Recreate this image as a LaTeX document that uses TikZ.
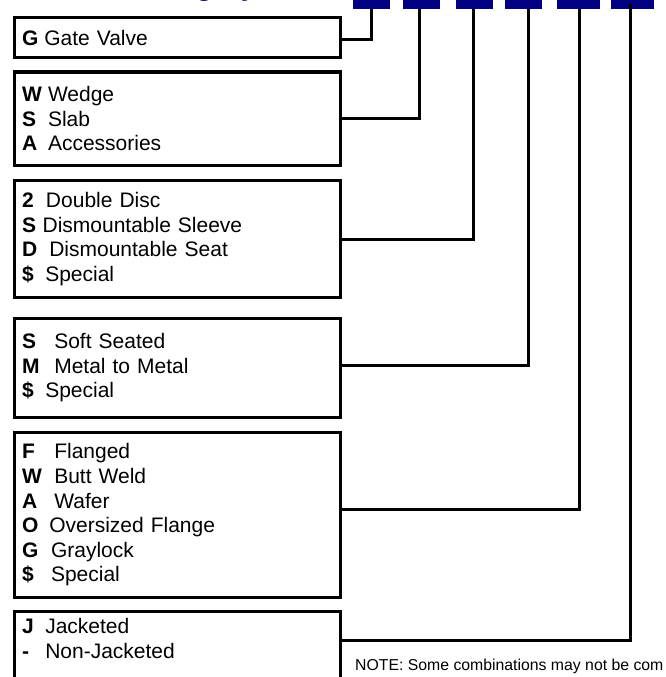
\documentclass[tikz,border=0pt]{standalone}
\usepackage{fontspec}
\setmainfont{Liberation Sans}
\usetikzlibrary{positioning}
\definecolor{SlotNavy}{RGB}{0, 0, 128}
\newcommand{\optline}[3][26pt]{\makebox[#1][l]{\textbf{#2}}#3}

\begin{document}
\begin{tikzpicture}[
    x=1pt, y=-1pt,
    optbox/.style={draw, line width=3pt, outer sep=0pt, inner xsep=7.5pt, text width=310.5pt, align=left, font=\fontsize{21}{24.6}\selectfont},
    slot/.style={fill=SlotNavy, outer sep=0pt, inner sep=0pt, minimum height=15pt},
    link/.style={line width=3pt}
]
\useasboundingbox (0,0) rectangle (665,677);
\clip (0,0) rectangle (665,677);

% title (cut off at the top)
\node[font=\bfseries\fontsize{28}{30}\selectfont, text=SlotNavy, anchor=base west, inner sep=0pt] (title) at (135,-4) {Category};

% code slots
\foreach \name/\x/\w in {s1/352.7/37.3, s2/402.7/37.3, s3/456/37, s4/505/37, s5/556.7/43.3, s6/610.7/43.3}
    \node[slot, minimum width=\w pt, anchor=south west] (\name) at (\x,9.5) {};

% option boxes
\node[optbox, minimum height=39.3pt, anchor=north west] (valve) at (14.5,18) {\optline[22.3pt]{G}{Gate Valve}};
\node[optbox, minimum height=93pt, below=14.7pt of valve] (disc) {\optline{W}{Wedge}\\ \optline{S}{Slab}\\ \optline{A}{Accessories}};
\node[optbox, minimum height=117pt, below=15.7pt of disc] (design) {\optline[24pt]{2}{Double Disc}\\ \optline[20.6pt]{S}{Dismountable Sleeve}\\ \optline[27.3pt]{D}{Dismountable Seat}\\ \optline[23.3pt]{\$}{Special}};
\node[optbox, minimum height=99.7pt, below=20.3pt of design] (seat) {\optline[32.3pt]{S}{Soft Seated}\\ \optline[32.3pt]{M}{Metal to Metal}\\ \optline[23.3pt]{\$}{Special}};
\node[optbox, minimum height=165.4pt, below=14.6pt of seat] (ends) {\optline[32.3pt]{F}{Flanged}\\ \optline[32.3pt]{W}{Butt Weld}\\ \optline[32.3pt]{A}{Wafer}\\ \optline[27.3pt]{O}{Oversized Flange}\\ \optline[29pt]{G}{Graylock}\\ \optline[29pt]{\$}{Special}};
\node[optbox, inner ysep=6.6pt, below=14pt of ends] (jacket) {\optline[23.3pt]{J}{Jacketed}\\ \optline[23.3pt]{-}{Non-Jacketed}\rule[-40pt]{0pt}{40pt}};

\node[font=\fontsize{15.8}{18}\selectfont, anchor=base west, inner sep=0pt] (note) at (355,670) {NOTE: Some combinations may not be com};

% connectors
\draw[link] ([yshift=-2.35pt]valve.east) -| (s1.south);
\draw[link] (disc.east) -| ([xshift=-2pt]s2.south);
\draw[link] (design.east) -| ([xshift=-1.2pt]s3.south);
\draw[link] ([yshift=2.8pt]seat.east) -| ([xshift=4.8pt]s4.south);
\draw[link] ([yshift=5.7pt]ends.east) -| ([xshift=1.6pt]s5.south);
\draw[link] ([yshift=-29pt]jacket.north east) -| ([xshift=-2.35pt, yshift=5.5pt]s6.south);
\end{tikzpicture}
\end{document}
